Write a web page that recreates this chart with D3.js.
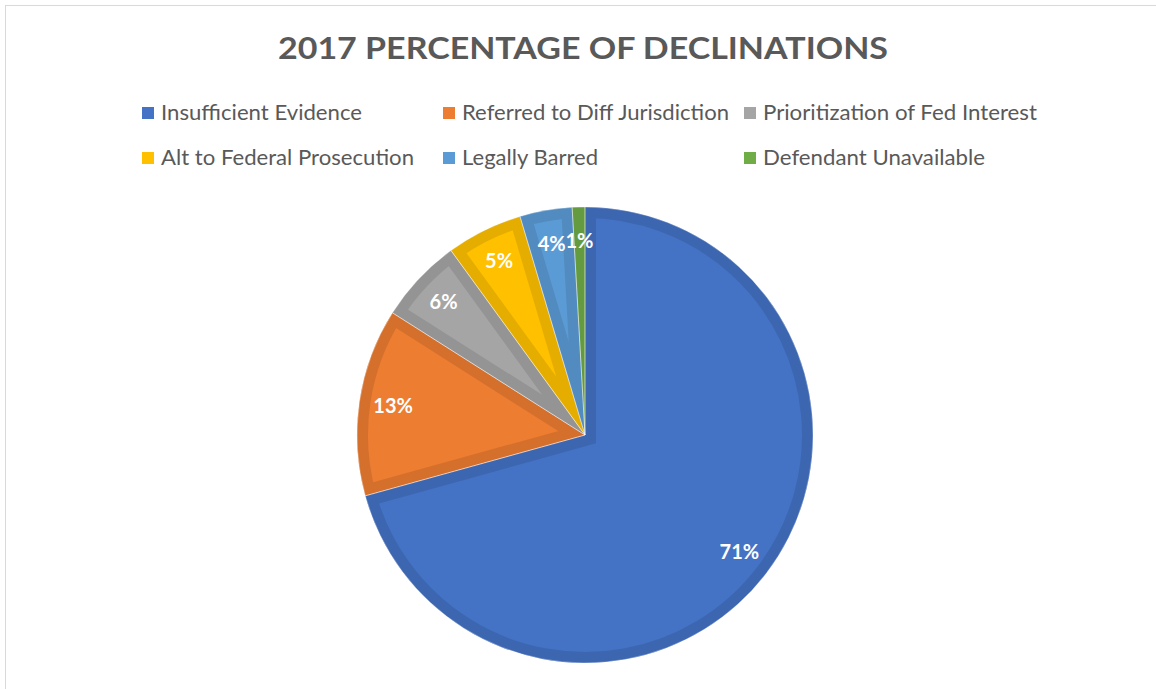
<!DOCTYPE html>
<html>
<head>
<meta charset="utf-8">
<script src="https://cdn.jsdelivr.net/npm/d3@7"></script>
<style>
  html, body { margin: 0; padding: 0; background: #fff; }
  svg { display: block; }
</style>
</head>
<body>
<svg id="chart" width="1156" height="689"></svg>
<script>
// ---- data ----
const title = "2017 PERCENTAGE OF DECLINATIONS";
const categories = [
  "Insufficient Evidence",
  "Referred to Diff Jurisdiction",
  "Prioritization of Fed Interest",
  "Alt to Federal Prosecution",
  "Legally Barred",
  "Defendant Unavailable"
];
const values = [70.7, 13.3, 6.0, 5.4, 3.7, 0.9];
const colors = ["#4472C4", "#ED7D31", "#A5A5A5", "#FFC000", "#5B9BD5", "#70AD47"];
const legendWidths = [201, 267, 274, 253, 136, 222];

// ---- layout ----
const W = 1156, H = 689;
const svg = d3.select("#chart");
const font = "Lato, 'Open Sans', sans-serif";

// chart border
svg.append("rect")
  .attr("x", 5.5).attr("y", 5.5)
  .attr("width", W + 20).attr("height", H + 20)
  .attr("fill", "#fff").attr("stroke", "#d9d9d9").attr("stroke-width", 1);

// title
svg.append("text")
  .attr("x", 583).attr("y", 59)
  .attr("text-anchor", "middle")
  .attr("font-family", font).attr("font-weight", 700)
  .attr("font-size", 30).attr("fill", "#595959")
  .attr("textLength", 610).attr("lengthAdjust", "spacingAndGlyphs")
  .text(title);

// legend
const colX = [142, 443, 744];
const rowY = [107, 152];
const legend = svg.append("g");
categories.forEach((c, i) => {
  const col = i % 3, row = Math.floor(i / 3);
  legend.append("rect")
    .attr("x", colX[col]).attr("y", rowY[row])
    .attr("width", 12).attr("height", 12)
    .attr("fill", colors[i]);
  legend.append("text")
    .attr("x", colX[col] + 19).attr("y", rowY[row] + 13)
    .attr("font-family", font).attr("font-size", 22)
    .attr("fill", "#595959")
    .attr("textLength", legendWidths[i]).attr("lengthAdjust", "spacingAndGlyphs")
    .text(c);
});

// pie
const cx = 585, cy = 435, R = 228, band = 11;
const total = d3.sum(values);
const pie = d3.pie().sort(null).value(d => d)(values);
const arc = d3.arc().innerRadius(0).outerRadius(R);
const labelArc = d3.arc().innerRadius(194).outerRadius(194);

const g = svg.append("g").attr("transform", `translate(${cx},${cy})`);
const defs = svg.append("defs");

pie.forEach((p, i) => {
  const id = "clip" + i;
  defs.append("clipPath").attr("id", id)
    .append("path").attr("d", arc(p));
  const base = d3.color(colors[i]);
  g.append("path")
    .attr("d", arc(p))
    .attr("fill", colors[i])
    .attr("stroke", base.darker(0.3).formatHex())
    .attr("stroke-width", band * 2)
    .attr("stroke-linejoin", "miter")
    .attr("clip-path", `url(#${id})`);
});
// thin separators
pie.forEach((p) => {
  g.append("path")
    .attr("d", arc(p))
    .attr("fill", "none")
    .attr("stroke", "#ffffff")
    .attr("stroke-opacity", 0.6)
    .attr("stroke-width", 0.6);
});

// labels
pie.forEach((p, i) => {
  const [lx, ly] = labelArc.centroid(p);
  g.append("text")
    .attr("x", lx).attr("y", ly)
    .attr("dy", "0.35em")
    .attr("text-anchor", "middle")
    .attr("font-family", font).attr("font-weight", 700)
    .attr("font-size", 20).attr("fill", "#ffffff")
    .text(Math.round(values[i] / total * 100) + "%");
});
</script>
</body>
</html>
